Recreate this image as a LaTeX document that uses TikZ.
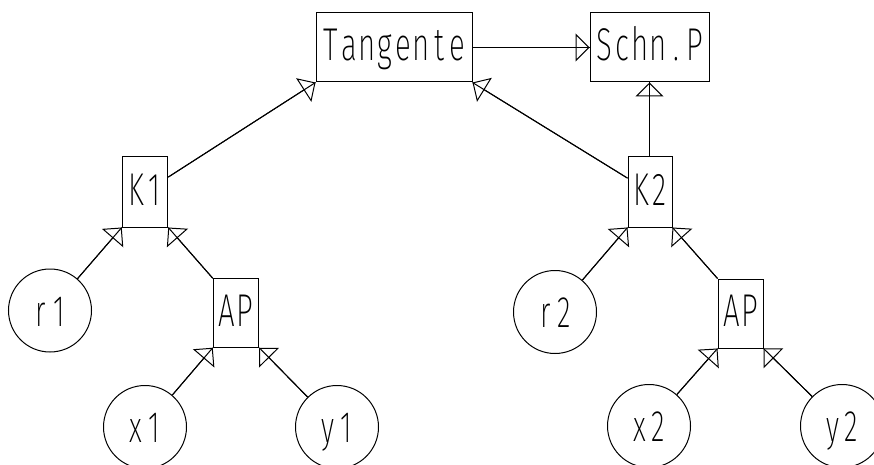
\documentclass[tikz,border=0pt]{standalone}
\usepackage{fontspec}
\usepackage{graphicx}
\usetikzlibrary{arrows.meta}
\IfFontExistsTF{Fira Sans ExtraLight}{\newfontfamily\cadfont{Fira Sans ExtraLight}}{%
\IfFontExistsTF{Fira Sans Light}{\newfontfamily\cadfont{Fira Sans Light}}{%
\IfFontExistsTF{Fira Sans Thin}{\newfontfamily\cadfont{Fira Sans Thin}}{%
\newfontfamily\cadfont{Fira Sans}}}}
\makeatletter
\newcommand\cadtext[1]{\@tfor\cadc:=#1\do{\makebox[18pt]{\scalebox{0.64}[1]{\cadc}}}}
\makeatother
\tikzset{
  cadline/.style={line width=1pt},
  box/.style={draw, rectangle, cadline, inner sep=0pt, text height=32pt, text depth=6pt,
    font=\cadfont\fontsize{46}{46}\selectfont},
  ball/.style={draw, circle, cadline, inner sep=0pt, minimum size=83pt, text height=31pt, text depth=0pt,
    font=\cadfont\fontsize{44}{44}\selectfont},
  tri/.style={cadline, postaction={draw, -{Triangle[open, length=14pt, width=28pt, line width=1pt]}}}
}
\begin{document}
\begin{tikzpicture}[x=1pt, y=-1pt]
\useasboundingbox (0,0) rectangle (874,465);
% boxes
\node[box, minimum width=156pt, minimum height=69pt] (tan) at (394,47.5) {\cadtext{Tangente}};
\node[box, minimum width=119pt, minimum height=69pt] (sp) at (649.5,47.5) {\cadtext{Schn.P}};
\node[box, minimum width=45.5pt, minimum height=70pt] (k1) at (145,192) {\cadtext{K1}};
\node[box, minimum width=44pt, minimum height=70pt] (k2) at (650,192) {\cadtext{K2}};
\node[box, minimum width=45.5pt, minimum height=68.5pt] (ap1) at (236,313) {\cadtext{AP}};
\node[box, minimum width=45pt, minimum height=69pt] (ap2) at (740.5,313.5) {\cadtext{AP}};
% circles
\node[ball] (r1) at (50,310.5) {\cadtext{r1}};
\node[ball] (r2) at (555,312) {\cadtext{r2}};
\node[ball] (x1) at (145,427) {\cadtext{x1}};
\node[ball] (y1) at (337,427) {\cadtext{y1}};
\node[ball] (x2) at (649,426) {\cadtext{x2}};
\node[ball] (y2) at (842,426) {\cadtext{y2}};
% connectors
\draw[tri] (tan.east |- sp.west) -- (sp.west);
\draw[tri] (k2.north -| sp.south) -- (sp.south);
\draw[tri] (k1) -- (tan.south west);
\draw[tri] (k2) -- (tan.south east);
\draw[tri] (r1) -- (k1.south west);
\draw[tri] (ap1.north west) -- (k1.south east);
\draw[tri] (x1) -- (ap1.south west);
\draw[tri] (y1) -- (ap1.south east);
\draw[tri] (r2) -- (k2.south west);
\draw[tri] (ap2.north west) -- (k2.south east);
\draw[tri] (x2) -- (ap2.south west);
\draw[tri] (y2) -- (ap2.south east);
\end{tikzpicture}
\end{document}
